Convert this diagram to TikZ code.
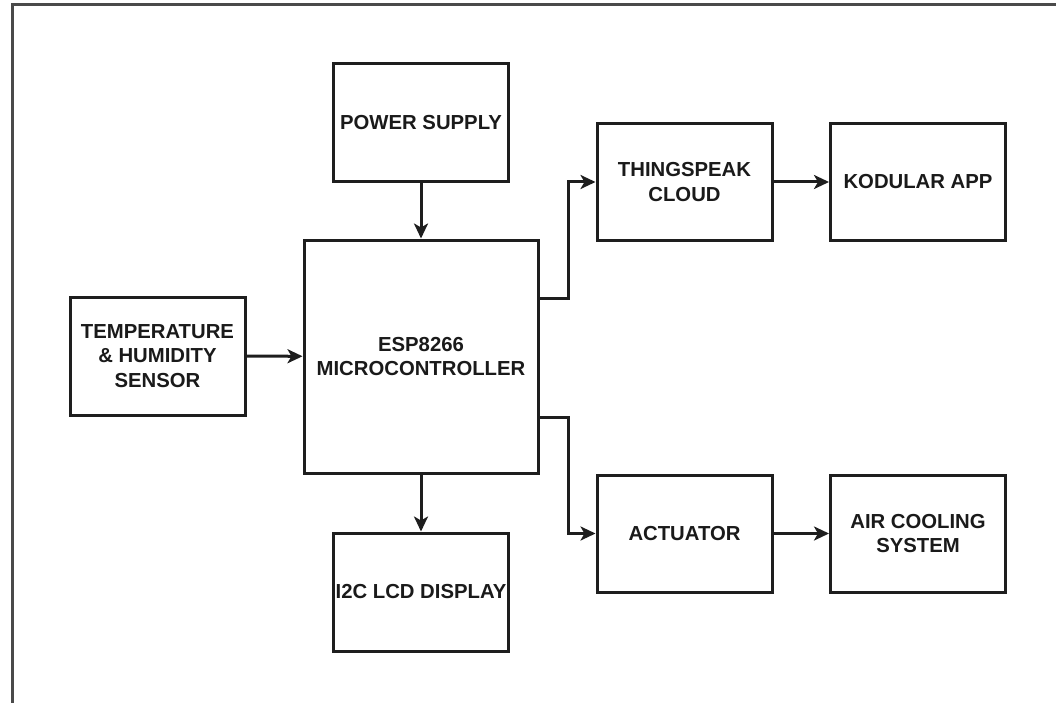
\documentclass[tikz,border=0pt]{standalone}
\usepackage{fontspec}
\setmainfont{Liberation Sans}
\usetikzlibrary{arrows.meta}
\definecolor{linecol}{HTML}{1E1E1E}
\definecolor{framecol}{HTML}{4A4A4A}
\definecolor{textcol}{HTML}{1A1A1A}
\tikzset{
  blockbox/.style={draw=linecol, line width=3pt, fill=white, inner sep=0pt,
    align=center, text=textcol,
    font=\bfseries\fontsize{20.3}{24.5}\selectfont},
  arr/.style={draw=linecol, line width=3pt,
    -{Stealth[length=15pt,width=14pt,inset=4pt]}}
}
\begin{document}
\begin{tikzpicture}[x=1pt,y=-1pt]
\useasboundingbox (0,0) rectangle (1056,703);
\fill[white] (0,0) rectangle (1056,703);
\draw[framecol, line width=3pt] (12,703) -- (12,5) -- (1056,5);

\node[blockbox, minimum width=175pt, minimum height=118pt] (ps) at (421,122.5) {POWER SUPPLY};
\node[blockbox, minimum width=234pt, minimum height=233pt] (esp) at (421,356.5) {ESP8266\\MICROCONTROLLER};
\node[blockbox, minimum width=175pt, minimum height=118pt] (temp) at (157.5,356) {TEMPERATURE\\\& HUMIDITY\\SENSOR};
\node[blockbox, minimum width=175pt, minimum height=118pt] (lcd) at (421,592) {I2C LCD DISPLAY};
\node[blockbox, minimum width=175pt, minimum height=116pt] (ts) at (684.5,182) {THINGSPEAK\\CLOUD};
\node[blockbox, minimum width=175pt, minimum height=116pt] (kod) at (918,182) {KODULAR APP};
\node[blockbox, minimum width=175pt, minimum height=117pt] (act) at (684.5,533.5) {ACTUATOR};
\node[blockbox, minimum width=175pt, minimum height=117pt] (air) at (918,533.5) {AIR COOLING\\SYSTEM};

\draw[arr] (ps) -- (esp);
\draw[arr] (esp) -- (lcd);
\draw[arr] (temp) -- (esp);
\draw[arr] (ts) -- (kod);
\draw[arr] (act) -- (air);
\draw[arr] ([yshift=58.5pt]esp.east) -- ++(29,0) |- (ts.west);
\draw[arr] ([yshift=-60.5pt]esp.east) -- ++(29,0) |- (act.west);
\end{tikzpicture}
\end{document}
